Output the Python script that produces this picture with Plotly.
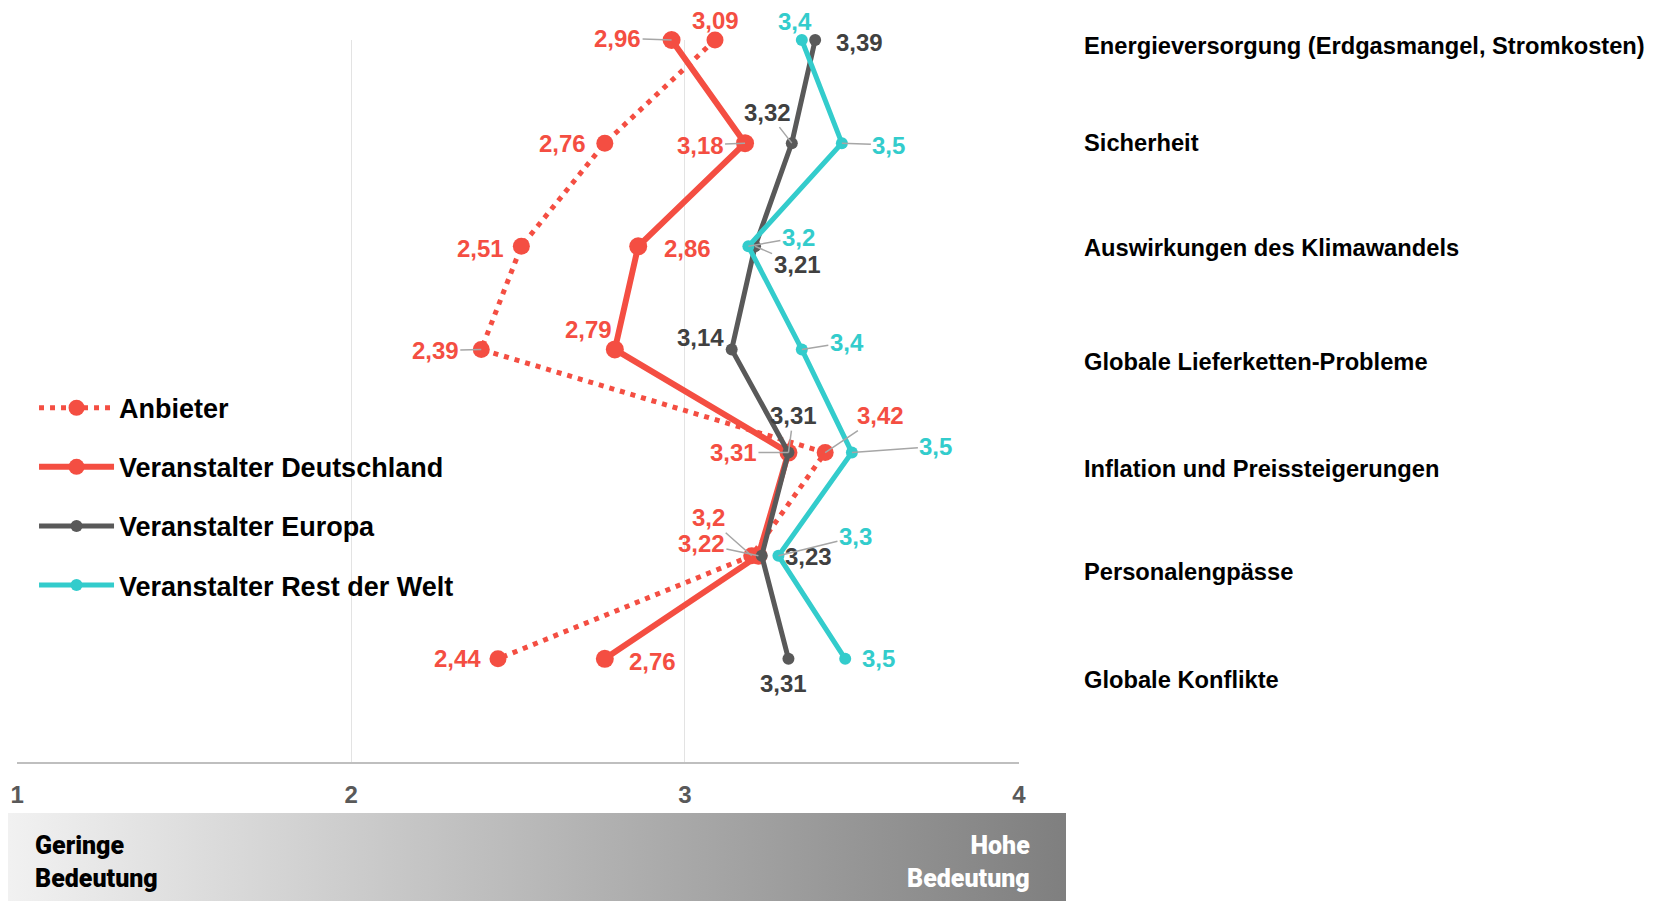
import urllib.parse
import plotly.graph_objects as go

# Daten (Bedeutung 1 = gering ... 4 = hoch)
categories = [
    "Energieversorgung (Erdgasmangel, Stromkosten)",
    "Sicherheit",
    "Auswirkungen des Klimawandels",
    "Globale Lieferketten-Probleme",
    "Inflation und Preissteigerungen",
    "Personalengpässe",
    "Globale Konflikte",
]
anbieter = [3.09, 2.76, 2.51, 2.39, 3.42, 3.2, 2.44]
deutschland = [2.96, 3.18, 2.86, 2.79, 3.31, 3.22, 2.76]
europa = [3.39, 3.32, 3.21, 3.14, 3.31, 3.23, 3.31]
rest_welt = [3.35, 3.47, 3.19, 3.35, 3.5, 3.28, 3.48]
x_ticks = [1, 2, 3, 4]

FONT = "Arial, Liberation Sans, sans-serif"
RED = "#F44E42"
DARK = "#595959"
CYAN = "#33CCCC"
LEADER = "#A6A6A6"

# label offsets in px (dx, dy, leader line)
label_style = {
    "Anbieter": [(1, -20, 0), (-42, 0, 0), (-41, 2, 0), (-46, 1, 1), (55, -37, 1), (-43, -38, 1), (-40, 0, 0)],
    "Veranstalter Deutschland": [(-54, -2, 1), (-45, 2, 1), (49, 2, 0), (-26, -20, 0), (-55, 0, 1), (-57, -12, 1), (48, 3, 0)],
    "Veranstalter Europa": [(44, 2, 0), (-24, -31, 1), (42, 18, 1), (-31, -12, 0), (5, -37, 1), (47, 1, 0), (-5, 25, 0)],
    "Veranstalter Rest der Welt": [(-7, -19, 0), (47, 2, 1), (50, -9, 1), (45, -7, 1), (84, -6, 1), (77, -19, 1), (33, 0, 0)],
}

series = [
    ("Anbieter", anbieter, RED, RED, dict(width=5, dash="5px,6px"), 17, 2),
    ("Veranstalter Deutschland", deutschland, RED, RED, dict(width=6), 18, 2),
    ("Veranstalter Europa", europa, DARK, "#404040", dict(width=5), 12, 2),
    ("Veranstalter Rest der Welt", rest_welt, CYAN, CYAN, dict(width=5), 12, 1),
]

# plot area is 1002 x 722 px; right-hand category labels, px below plot top
PLOT_H = 722
label_rows_px = [6, 103, 208, 322, 429, 532, 640]

fig = go.Figure()
annotations = []
for name, values, color, text_color, line, msize, dec in series:
    line["color"] = color
    fig.add_trace(go.Scatter(
        x=values, y=categories, mode="lines+markers", name=name,
        legendgroup=name, line=line,
        marker=dict(size=msize, color=color, symbol="circle"),
        cliponaxis=False, hoverinfo="x+name",
    ))
    for v, cat, (dx, dy, leader) in zip(values, categories, label_style[name]):
        txt = (f"{v:.{dec}f}".rstrip("0").rstrip(".") if dec == 2 else f"{v:.1f}").replace(".", ",")
        annotations.append(dict(
            x=v, y=cat, xref="x", yref="y", text=txt, ax=dx, ay=dy,
            showarrow=True, arrowhead=0, arrowwidth=1.5, standoff=0,
            arrowcolor=LEADER if leader else "rgba(0,0,0,0)",
            font=dict(family=FONT, size=24, color=text_color, weight="bold"),
        ))

for cat, row in zip(categories, label_rows_px):
    annotations.append(dict(
        x=1.063, y=1 - row / PLOT_H, xref="paper", yref="paper",
        text=cat, showarrow=False, xanchor="left", yanchor="middle",
        font=dict(family=FONT, size=23.7, color="black", weight="bold"),
    ))

for txt, x, anchor, color in [("Geringe<br>Bedeutung", 0.016, "left", "black"),
                              ("Hohe<br>Bedeutung", 1.013, "right", "white")]:
    annotations.append(dict(
        x=x, y=-0.1385, xref="paper", yref="paper", text=txt, showarrow=False,
        xanchor=anchor, yanchor="middle", align=anchor,
        font=dict(family="Roboto, sans-serif", size=25, color=color, weight=900),
    ))

gradient_svg = (
    "<svg xmlns='http://www.w3.org/2000/svg' width='100' height='10' preserveAspectRatio='none'>"
    "<defs><linearGradient id='g' x1='0' x2='1' y1='0' y2='0'>"
    "<stop offset='0' stop-color='#F2F2F2'/><stop offset='1' stop-color='#7F7F7F'/>"
    "</linearGradient></defs><rect width='100' height='10' fill='url(#g)'/></svg>"
)

fig.update_layout(
    width=1655, height=901,
    # page body adds 8px, so margins are trimmed by 8
    margin=dict(l=9, r=644, t=32, b=147, autoexpand=False),
    paper_bgcolor="white", plot_bgcolor="white",
    showlegend=True,
    legend=dict(x=0.017, y=0.524, xanchor="left", yanchor="top",
                font=dict(family=FONT, size=27, color="black", weight="bold"),
                itemwidth=75, tracegroupgap=21, bgcolor="rgba(0,0,0,0)"),
    xaxis=dict(range=[0.9995, 4.0005], tickvals=x_ticks, showgrid=True, gridcolor="#E3E3E3",
               gridwidth=1, zeroline=False, showline=True, linecolor="#BFBFBF",
               linewidth=2, ticks="", ticklabelstandoff=10, automargin=False,
               tickfont=dict(family=FONT, size=24, color=DARK, weight="bold")),
    yaxis=dict(range=[7, 0], showticklabels=False, showgrid=False, automargin=False,
               zeroline=False, showline=False, ticks=""),
    images=[dict(source="data:image/svg+xml;charset=utf-8," + urllib.parse.quote(gradient_svg),
                 xref="paper", yref="paper", x=-0.017, y=-0.0706,
                 sizex=1.064, sizey=0.122, xanchor="left", yanchor="top",
                 sizing="stretch", layer="below")],
    annotations=annotations,
    separators=",.",
)

fig.write_html("out.html")
